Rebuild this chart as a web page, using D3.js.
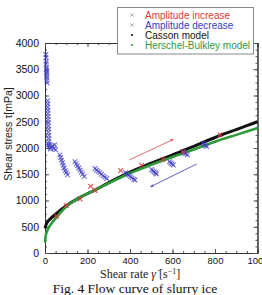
<!DOCTYPE html>
<html>
<head>
<meta charset="utf-8">
<script src="https://cdn.jsdelivr.net/npm/d3@7"></script>
<style>
  body { margin: 0; background: #fff; }
  svg { display: block; }
  .tick text { font-family: "Liberation Sans", Arial, sans-serif; }
</style>
</head>
<body>
<div id="chart"></div>
<script>
// shear rate [1/s], shear stress [mPa]
var ampIncrease = [[55,700],[100,905],[165,1030],[215,1270],[235,1190],[356,1570],[455,1670],[555,1780],[650,1925],[824,2250]];

var ampDecrease = [
  [4,3780],[5,3720],[6,3650],[5,3600],[7,3540],[6,3500],[8,3460],[7,3430],[8,3390],[9,3340],[8,3290],[10,3240],
  [12,2900],[13,2840],[12,2780],[14,2720],[13,2660],[15,2600],[14,2540],[16,2480],[15,2420],[17,2360],[16,2300],[18,2240],[17,2180],[19,2120],[20,2070],
  [12,2050],[20,2030],[28,2010],[35,2040],[42,1990],[50,1970],[25,1980],[45,2060],
  [70,1870],[74,1820],[78,1770],[82,1720],[86,1670],[90,1620],[95,1570],[100,1530],[106,1490],
  [141,1740],[147,1700],[153,1660],[159,1620],[165,1580],[171,1540],[177,1500],[185,1460],
  [235,1610],[243,1580],[250,1555],[258,1530],[266,1500],[274,1470],[282,1445],[290,1420],
  [378,1530],[386,1505],[394,1480],[402,1455],[410,1430],[418,1405],[424,1390],
  [502,1590],[508,1565],[514,1545],[520,1525],[525,1505],
  [586,1740],[592,1715],[598,1695],[604,1676],
  [648,1930],[655,1910],[662,1890],[670,1868],
  [744,2090],[750,2070],[756,2048],[761,2028]
];

var cassonRate   = [0,5,10,25,50,100,165,235,300,400,500,600,700,800,900,1000];
var cassonStress = [470,540,580,650,740,900,1060,1200,1340,1540,1710,1870,2030,2200,2350,2500];

var hbRate   = [0,2,5,10,25,50,100,165,235,300,400,500,600,700,800,900,1000];
var hbStress = [200,290,360,420,530,660,880,1060,1200,1330,1520,1680,1830,1970,2120,2250,2380];

var redArrow  = [[396,1771],[604,2166]];
var blueArrow = [[714,1695],[497,1263]];

var xTicks = [0,200,400,600,800,1000];
var yTicks = [0,500,1000,1500,2000,2500,3000,3500,4000];

var legendNames  = ["Amplitude increase","Amplitude decrease","Casson model","Herschel-Bulkley model"];
var legendColors = ["#e03a3a","#3a3ac4","#111111","#2e9a3a"];

var svgWidth = 262, svgHeight = 295;
var margin = {top: 43, right: 4.5, bottom: 42, left: 45};
var width = svgWidth - margin.left - margin.right;
var height = svgHeight - margin.top - margin.bottom;

var svg = d3.select("#chart").append("svg")
  .attr("width", svgWidth)
  .attr("height", svgHeight);

var chartGroup = svg.append("g")
  .attr("transform", `translate(${margin.left}, ${margin.top})`);

var xScale = d3.scaleLinear().domain([0, 1000]).range([0, width]);
var yScale = d3.scaleLinear().domain([0, 4000]).range([height, 0]);

// minor ticks first (inward, all four sides)
var xMinor = d3.range(0, 1001, 50);
var yMinor = d3.range(0, 4001, 125);

chartGroup.append("g").attr("transform", `translate(0, ${height})`)
  .call(d3.axisBottom(xScale).tickValues(xMinor).tickSize(-2).tickFormat(""));
chartGroup.append("g")
  .call(d3.axisTop(xScale).tickValues(xMinor).tickSize(-2).tickFormat(""));
chartGroup.append("g")
  .call(d3.axisLeft(yScale).tickValues(yMinor).tickSize(-2).tickFormat(""));
chartGroup.append("g").attr("transform", `translate(${width}, 0)`)
  .call(d3.axisRight(yScale).tickValues(yMinor).tickSize(-2).tickFormat(""));

// major ticks
var xAxis = chartGroup.append("g").attr("transform", `translate(0, ${height})`)
  .call(d3.axisBottom(xScale).tickValues(xTicks).tickSize(-4).tickPadding(4).tickFormat(d3.format("d")));
xAxis.selectAll("text").attr("font-size", "9.5px").attr("fill", "#111");

var yAxis = chartGroup.append("g")
  .call(d3.axisLeft(yScale).tickValues(yTicks).tickSize(-4).tickPadding(6).tickFormat(d3.format("d")));
yAxis.selectAll("text").attr("font-size", "10.5px").attr("fill", "#111");

chartGroup.append("g")
  .call(d3.axisTop(xScale).tickValues(xTicks).tickSize(-4).tickFormat(""));
chartGroup.append("g").attr("transform", `translate(${width}, 0)`)
  .call(d3.axisRight(yScale).tickValues(yTicks).tickSize(-4).tickFormat(""));

chartGroup.selectAll(".domain").attr("stroke", "#333");
chartGroup.selectAll(".tick line").attr("stroke", "#555");

// model curves
var line = d3.line()
  .x(d => xScale(d[0]))
  .y(d => yScale(d[1]))
  .curve(d3.curveMonotoneX);

chartGroup.append("path")
  .datum(cassonRate.map((r, i) => [r, cassonStress[i]]))
  .attr("d", line)
  .attr("fill", "none")
  .attr("stroke", "#111")
  .attr("stroke-width", 3);

chartGroup.append("path")
  .datum(hbRate.map((r, i) => [r, hbStress[i]]))
  .attr("d", line)
  .attr("fill", "none")
  .attr("stroke", "#2e9a3a")
  .attr("stroke-width", 2.6);

// data markers
var cross = "M-2.3,-2.3L2.3,2.3M-2.3,2.3L2.3,-2.3";

chartGroup.selectAll(".dec")
  .data(ampDecrease)
  .enter()
  .append("path")
  .attr("class", "dec")
  .attr("d", cross)
  .attr("transform", d => `translate(${xScale(d[0])}, ${yScale(d[1])})`)
  .attr("stroke", "#3a3ac4")
  .attr("stroke-opacity", 0.75)
  .attr("stroke-width", 1.1)
  .attr("fill", "none");

chartGroup.selectAll(".inc")
  .data(ampIncrease)
  .enter()
  .append("path")
  .attr("class", "inc")
  .attr("d", cross)
  .attr("transform", d => `translate(${xScale(d[0])}, ${yScale(d[1])})`)
  .attr("stroke", "#d83a3a")
  .attr("stroke-opacity", 0.8)
  .attr("stroke-width", 1.3)
  .attr("fill", "none");

// arrows
var defs = svg.append("defs");
[["redHead", "#e06060"], ["blueHead", "#5050c0"]].forEach(function(m) {
  defs.append("marker")
    .attr("id", m[0])
    .attr("viewBox", "0 0 10 10")
    .attr("refX", 8).attr("refY", 5)
    .attr("markerWidth", 4).attr("markerHeight", 4)
    .attr("orient", "auto")
    .append("path")
    .attr("d", "M0,1L10,5L0,9Z")
    .attr("fill", m[1]);
});

chartGroup.append("line")
  .attr("x1", xScale(redArrow[0][0])).attr("y1", yScale(redArrow[0][1]))
  .attr("x2", xScale(redArrow[1][0])).attr("y2", yScale(redArrow[1][1]))
  .attr("stroke", "#e06060").attr("stroke-width", 0.9)
  .attr("marker-end", "url(#redHead)");

chartGroup.append("line")
  .attr("x1", xScale(blueArrow[0][0])).attr("y1", yScale(blueArrow[0][1]))
  .attr("x2", xScale(blueArrow[1][0])).attr("y2", yScale(blueArrow[1][1]))
  .attr("stroke", "#5050c0").attr("stroke-width", 0.9)
  .attr("marker-end", "url(#blueHead)");

// legend
var legend = svg.append("g").attr("transform", "translate(117, 7)");
legend.append("rect")
  .attr("x", 0.5).attr("y", 0.5)
  .attr("width", 136).attr("height", 46.5)
  .attr("fill", "#fff")
  .attr("stroke", "#888");

legendNames.forEach(function(name, i) {
  var row = legend.append("g").attr("transform", `translate(0, ${8 + i * 10})`);
  if (i < 2) {
    row.append("path").attr("d", "M-1.8,-1.8L1.8,1.8M-1.8,1.8L1.8,-1.8")
      .attr("transform", "translate(15, 0)")
      .attr("stroke", "#aaa").attr("stroke-width", 0.9);
  } else {
    row.append("circle").attr("cx", 15).attr("cy", 0).attr("r", 1.1)
      .attr("fill", legendColors[i]);
  }
  row.append("text")
    .attr("x", 28).attr("y", 3.6)
    .attr("font-family", "Liberation Sans, Arial, sans-serif")
    .attr("font-size", "10px")
    .attr("fill", legendColors[i])
    .text(name);
});

// axis titles
svg.append("text")
  .attr("transform", "translate(12, 134) rotate(-90)")
  .attr("text-anchor", "middle")
  .attr("font-family", "Liberation Sans, Arial, sans-serif")
  .attr("font-size", "10.5px")
  .attr("fill", "#222")
  .text("Shear stress \u03c4[mPa]");

var xLabel = svg.append("text")
  .attr("x", 100).attr("y", 278)
  .attr("font-family", "Liberation Serif, Times New Roman, serif")
  .attr("font-size", "12px")
  .attr("fill", "#222");
xLabel.append("tspan").text("Shear rate  ");
xLabel.append("tspan").attr("font-style", "italic").text("\u03b3\u0307");
xLabel.append("tspan").text(" [s");
xLabel.append("tspan").attr("font-size", "8px").attr("dy", -4).text("\u22121");
xLabel.append("tspan").attr("dy", 4).text("]");

svg.append("text")
  .attr("x", 135).attr("y", 293)
  .attr("text-anchor", "middle")
  .attr("font-family", "Liberation Serif, Times New Roman, serif")
  .attr("font-size", "13.5px")
  .attr("fill", "#111")
  .text("Fig. 4 Flow curve of slurry ice");
</script>
</body>
</html>
